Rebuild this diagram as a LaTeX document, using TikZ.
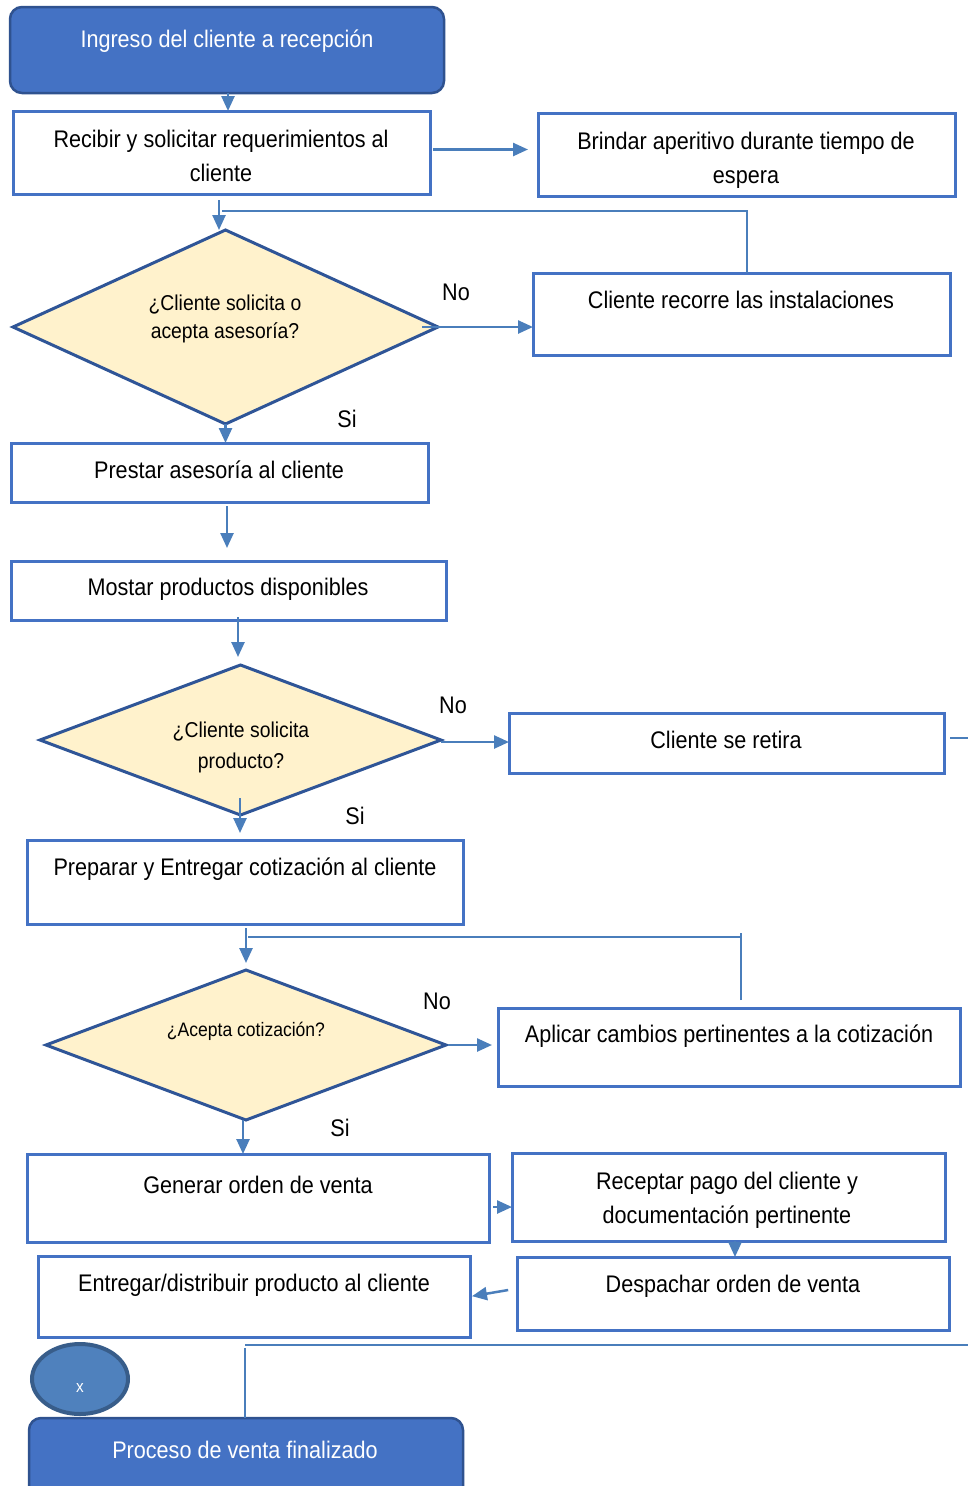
\documentclass[tikz,border=0pt]{standalone}
\usepackage{fontspec}
\setmainfont[FakeStretch=0.9]{Liberation Sans}
\usetikzlibrary{arrows.meta,shapes.geometric,calc}
\definecolor{acc}{HTML}{4472C4}
\definecolor{arrc}{HTML}{4A7EBB}
\definecolor{diab}{HTML}{2F5597}
\definecolor{dfill}{HTML}{FFF2CC}
\definecolor{startb}{HTML}{2F528F}
\definecolor{circf}{HTML}{4F81BD}
\definecolor{circb}{HTML}{385D8A}
\tikzset{
  box/.style={draw=acc, line width=3pt, fill=white, rectangle, inner sep=0pt, outer sep=0pt},
  term/.style={draw=startb, line width=2.5pt, fill=acc, rectangle, rounded corners=12pt, inner sep=0pt, outer sep=0pt},
  dec/.style={draw=diab, line width=3pt, fill=dfill, diamond, inner sep=0pt, outer sep=0pt},
  txt/.style={anchor=base, inner sep=0pt, align=center, font=\fontsize{24}{34}\selectfont},
  dtxt/.style={anchor=base, inner sep=0pt, align=center, font=\fontsize{21.5}{28}\selectfont},
  wtxt/.style={txt, text=white},
  arr/.style={draw=arrc, line width=2.5pt, -{Triangle[length=15pt,width=13pt]}},
  conn/.style={draw=arrc, line width=2.5pt},
}
\begin{document}
\begin{tikzpicture}[x=1pt,y=-1pt]
\useasboundingbox (0,0) rectangle (968,1486);
\fill[white] (0,0) rectangle (968,1486);

% nodes
\node[term, minimum width=434pt, minimum height=86pt] (s1) at (227,50) {};
\node[wtxt] (ts1) at (227,47) {Ingreso del cliente a recepción};

\node[box, minimum width=417pt, minimum height=83pt] (b2) at (221.5,152.5) {};
\node[txt] (tb2) at (221,181) {Recibir y solicitar requerimientos al\\cliente};

\node[box, minimum width=417pt, minimum height=83pt] (b3) at (746.5,154.5) {};
\node[txt] (tb3) at (746,183) {Brindar aperitivo durante tiempo de\\espera};

\node[dec, minimum width=425pt, minimum height=194pt] (d1) at (225.5,327) {};
\node[dtxt] (td1) at (225,338) {¿Cliente solicita o\\acepta asesoría?};

\node[box, minimum width=417pt, minimum height=82pt] (b4) at (741.5,314) {};
\node[txt] (tb4) at (741,308) {Cliente recorre las instalaciones};

\node[box, minimum width=417pt, minimum height=59pt] (b5) at (219.5,472.5) {};
\node[txt] (tb5) at (219,478) {Prestar asesoría al cliente};

\node[box, minimum width=435pt, minimum height=59pt] (b6) at (228.5,590.5) {};
\node[txt] (tb6) at (228,595) {Mostar productos disponibles};

\node[dec, minimum width=401pt, minimum height=150pt] (d2) at (240.5,740) {};
\node[dtxt, font=\fontsize{21.5}{31}\selectfont] (td2) at (241,768) {¿Cliente solicita\\producto?};

\node[box, minimum width=435pt, minimum height=60pt] (b7) at (726.5,743) {};
\node[txt] (tb7) at (726,748) {Cliente se retira};

\node[box, minimum width=436pt, minimum height=84pt] (b8) at (245,882) {};
\node[txt] (tb8) at (245,875) {Preparar y Entregar cotización al cliente};

\node[dec, minimum width=400pt, minimum height=150pt] (d3) at (246,1045) {};
\node[dtxt, font=\fontsize{19.5}{26}\selectfont] (td3) at (246,1036) {¿Acepta cotización?};

\node[box, minimum width=462pt, minimum height=78pt] (b9) at (729,1047) {};
\node[txt] (tb9) at (729,1042) {Aplicar cambios pertinentes a la cotización};

\node[box, minimum width=462pt, minimum height=88pt] (b10) at (258,1198) {};
\node[txt] (tb10) at (258,1193) {Generar orden de venta};

\node[box, minimum width=433pt, minimum height=88pt] (b11) at (728.5,1197) {};
\node[txt] (tb11) at (727,1223) {Receptar pago del cliente y\\documentación pertinente};

\node[box, minimum width=432pt, minimum height=73pt] (b12) at (733,1293.5) {};
\node[txt] (tb12) at (733,1292) {Despachar orden de venta};

\node[box, minimum width=432pt, minimum height=81pt] (b13) at (254,1296.5) {};
\node[txt] (tb13) at (254,1291) {Entregar/distribuir producto al cliente};

\node[ellipse, draw=circb, line width=4pt, fill=circf, minimum width=96pt, minimum height=70pt, inner sep=0pt] (cx) at (80,1379) {};
\node[anchor=base, inner sep=0pt, text=white, font=\fontsize{17}{20}\selectfont] (tcx) at (80,1392) {x};

\node[term, minimum width=434pt, minimum height=86pt] (end) at (246,1461) {};
\node[wtxt] (tend) at (245,1458) {Proceso de venta finalizado};

% labels
\node[txt] (no1) at (456,300) {No};
\node[txt] (si1) at (347,427) {Si};
\node[txt] (no2) at (453,713) {No};
\node[txt] (si2) at (355,824) {Si};
\node[txt] (no3) at (437,1009) {No};
\node[txt] (si3) at (340,1136) {Si};

% helper coordinates
\coordinate (j1) at (222,211);
\coordinate (j2) at (248,937);
\coordinate (j3) at (245,1345);
\coordinate (e1) at (968,738);
\coordinate (e2) at (968,1345);

% connectors
\draw[arr] ([xshift=1pt]s1.south) -- ([xshift=1pt]s1.south |- b2.north);
\draw[arr, shorten <=3pt, shorten >=10pt] ([yshift=3pt]b2.east) -- ([yshift=3pt]b2.east -| b3.west);
\draw[arr, shorten <=6pt] ([xshift=-2.5pt]b2.south) -- ([xshift=-2.5pt]b2.south |- d1.north);
\draw[conn] ([xshift=5.5pt]b4.north) |- (j1);
\draw[arr, shorten <=-16pt] (d1.east) -- (d1.east -| b4.west);
\draw[arr] (d1.south) -- (d1.south |- b5.north);
\draw[arr, shorten <=4pt, shorten >=13pt] ([xshift=7.5pt]b5.south) -- ([xshift=7.5pt]b5.south |- b6.north);
\draw[arr, shorten >=8pt] ([xshift=9.5pt,yshift=3pt]b6.south) -- ([xshift=9.5pt]b6.south |- d2.north);
\draw[arr] ([yshift=-2pt]d2.east) -- ([yshift=-2pt]d2.east -| b7.west);
\draw[conn, shorten <=6pt] (b7.east |- e1) -- (e1);
\draw[arr, shorten >=7pt] ([xshift=-0.5pt,yshift=17pt]d2.south) -- ([xshift=-0.5pt]d2.south |- b8.north);
\draw[arr, shorten <=4pt, shorten >=7pt] ([xshift=1pt]b8.south) -- ([xshift=1pt]b8.south |- d3.north);
\draw[conn] ([xshift=12pt,yshift=8pt]b9.north) |- (j2);
\draw[conn, line width=1.5pt] ($(b9.north)+(12,-75)$) -- ($(b9.north)+(12,-71)$);
\draw[arr, shorten <=2pt, shorten >=6pt] (d3.east) -- (d3.east -| b9.west);
\draw[arr] ([xshift=-3pt]d3.south) -- ([xshift=-3pt]d3.south |- b10.north);
\draw[arr, shorten <=4pt] ([yshift=-9pt]b10.east) -- ([yshift=-9pt]b10.east -| b11.west);
\draw[arr] ([xshift=6.5pt]b11.south) -- ([xshift=6.5pt]b11.south |- b12.north);
\draw[arr, shorten <=9pt, shorten >=2pt] ([yshift=5pt]b12.west) -- (b13.east);
\draw[conn] (e2) -- (j3);
\draw[conn, line width=1.5pt] ([yshift=-3pt]j3) -- (end.north -| j3);
\end{tikzpicture}
\end{document}
